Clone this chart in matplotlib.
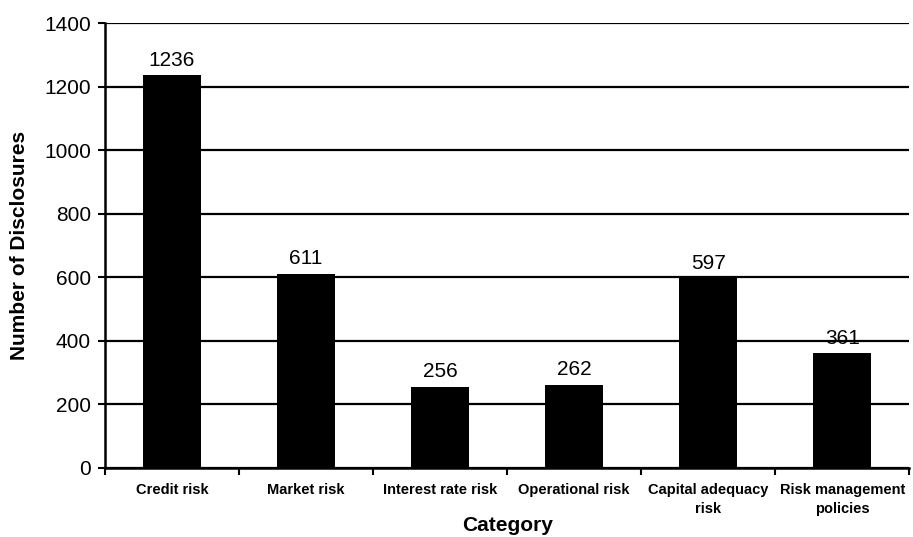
import matplotlib
matplotlib.use("Agg")
import matplotlib.pyplot as plt
import numpy as np

categories = ["Credit risk", "Market risk", "Interest rate risk", "Operational risk",
              "Capital adequacy\nrisk", "Risk management\npolicies"]
values = [1236, 611, 256, 262, 597, 361]
yticks = [0, 200, 400, 600, 800, 1000, 1200, 1400]

plt.rcParams['font.family'] = ['Liberation Sans', 'DejaVu Sans']

fig = plt.figure(figsize=(9.13, 5.37), dpi=100)
ax = fig.add_axes([0.115, 0.1285, 0.881, 0.8285])

x = np.arange(len(categories))
ax.bar(x, values, width=0.43, color='black', zorder=3)
for xi, v in zip(x, values):
    ax.annotate(str(v), (xi, v), xytext=(0, 4), textcoords='offset points',
                ha='center', va='bottom', fontsize=15)

ax.set_xlim(-0.5, len(categories) - 0.5)
ax.set_ylim(0, 1400)
ax.set_yticks(yticks)
ax.set_yticklabels([str(t) for t in yticks], fontsize=15)
ax.yaxis.grid(True, color='black', linewidth=1.6, zorder=0)
ax.set_axisbelow(True)

ax.set_xticks(x)
ax.set_xticklabels(categories, fontsize=10.5, fontweight='bold', linespacing=1.45)
ax.tick_params(axis='x', which='major', length=0, pad=11)
ax.set_xticks(np.arange(len(categories) + 1) - 0.5, minor=True)
ax.tick_params(axis='x', which='minor', length=5, width=1.5, direction='out')
ax.tick_params(axis='y', length=5, width=1.5, pad=5)

for s in ['top', 'right']:
    ax.spines[s].set_visible(False)
ax.spines['left'].set_linewidth(1.8)
ax.spines['bottom'].set_linewidth(1.8)

ax.set_xlabel("Category", fontsize=15, fontweight='bold', labelpad=0)
ax.set_ylabel("Number of Disclosures", fontsize=15, fontweight='bold', labelpad=11)

fig.savefig("out.png", dpi=100)
